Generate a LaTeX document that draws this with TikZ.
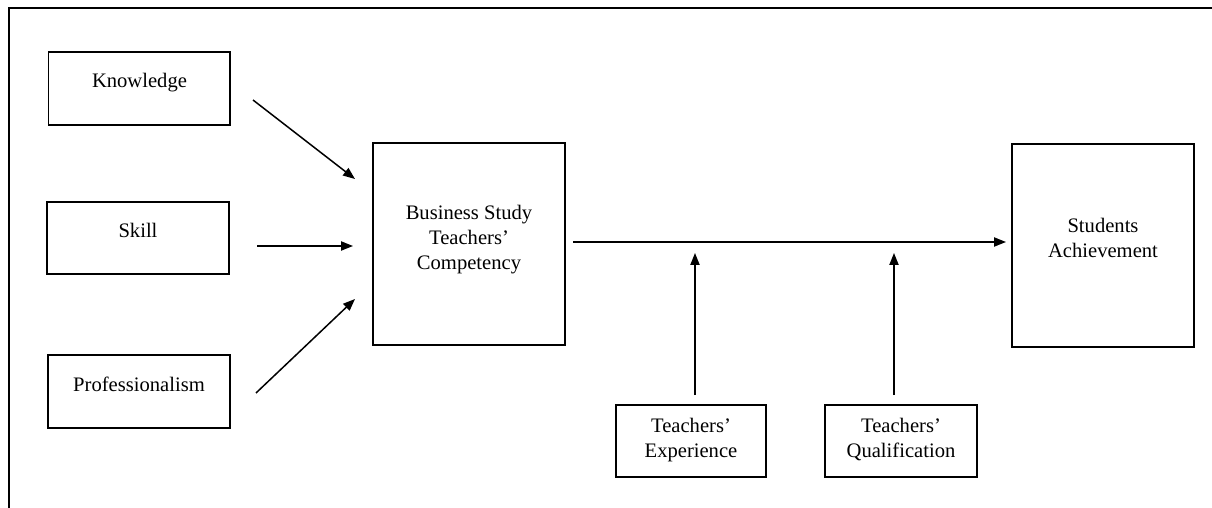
\documentclass[tikz,border=0pt]{standalone}
\usepackage{fontspec}
\setmainfont{Liberation Serif}
\usetikzlibrary{arrows.meta}
\begin{document}
\begin{tikzpicture}[x=0.5pt,y=-0.5pt,
  box/.style={draw,line width=0.9pt,inner sep=0pt},
  lbl/.style={inner sep=0pt,font=\fontsize{10.3}{12.5}\selectfont,align=center},
  arr/.style={line width=0.75pt,-{Triangle[length=6pt,width=4.6pt]}},
  frame/.style={line width=1pt}]
\useasboundingbox (0,0) rectangle (1212,508);
\draw[frame] (8.5,508) -- (8.5,8.5) -- (1212,8.5);
% boxes
\node[box,minimum width=90.75pt,minimum height=36.5pt] (kbox) at (139.25,88.5) {};
\node[box,minimum width=91pt,minimum height=36pt] (sbox) at (138,238) {};
\node[box,minimum width=91pt,minimum height=36.5pt] (pbox) at (139,391.5) {};
\node[box,minimum width=96pt,minimum height=101pt] (bbox) at (469,244) {};
\node[box,minimum width=91pt,minimum height=101.5pt] (abox) at (1103,245.5) {};
\node[box,minimum width=75pt,minimum height=36pt] (ebox) at (691,441) {};
\node[box,minimum width=76pt,minimum height=36pt] (qbox) at (901,441) {};
% texts
\node[lbl,anchor=base] (kt) at (139.5,88) {Knowledge};
\node[lbl,anchor=base] (st) at (138,238) {Skill};
\node[lbl,anchor=base] (pt) at (139,392) {Professionalism};
\node[lbl,anchor=north] (bt) at (469,205) {Business Study\\Teachers’\\Competency};
\node[lbl,anchor=north] (at) at (1103,218) {Students\\Achievement};
\node[lbl,anchor=north] (et) at (691,418) {Teachers’\\Experience};
\node[lbl,anchor=north] (qt) at (901,418) {Teachers’\\Qualification};
% arrow end points
\coordinate (k1) at (253,100);  \coordinate (k2) at (355,179);
\coordinate (s1) at (257,246);  \coordinate (s2) at (353,246);
\coordinate (p1) at (256,393);  \coordinate (p2) at (355,299);
\coordinate (m1) at (573,242);  \coordinate (m2) at (1006,242);
\coordinate (e1) at (695,395);  \coordinate (e2) at (695,253);
\coordinate (q1) at (894,395);  \coordinate (q2) at (894,253);
\draw[arr] (k1) -- (k2);
\draw[arr] (s1) -- (s2);
\draw[arr] (p1) -- (p2);
\draw[arr] (m1) -- (m2);
\draw[arr] (e1) -- (e2);
\draw[arr] (q1) -- (q2);
\end{tikzpicture}
\end{document}
